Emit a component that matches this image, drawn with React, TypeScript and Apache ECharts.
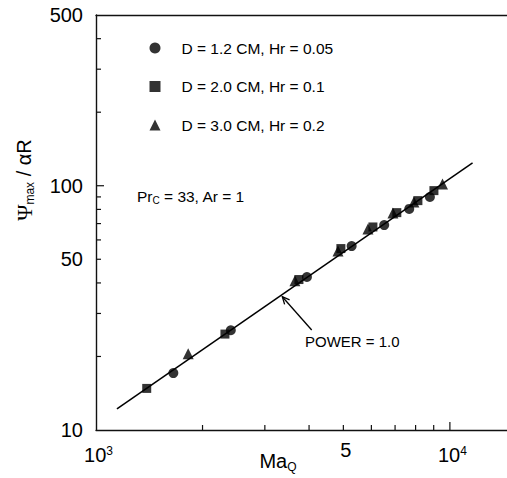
import React, { useEffect, useRef } from 'react';
import * as echarts from 'echarts';

const FONT = '"Liberation Sans", Arial, Helvetica, sans-serif';
const SERIF = '"Liberation Serif", "Times New Roman", serif';

const LEGEND_NAMES = ['D = 1.2 CM, Hr = 0.05', 'D = 2.0 CM, Hr = 0.1', 'D = 3.0 CM, Hr = 0.2'];

const MA_CIRCLE = [1654, 2404, 3945, 5277, 6522, 7675, 8780];
const PSI_CIRCLE = [17.1, 25.6, 42.3, 56.6, 69.0, 80.4, 89.9];

const MA_SQUARE = [1391, 2314, 3745, 4920, 6060, 7080, 8121, 9013];
const PSI_SQUARE = [14.8, 24.7, 41.3, 55.3, 67.8, 77.6, 86.9, 95.5];

const MA_TRIANGLE = [1822, 3648, 4828, 5866, 6902, 7911, 9530];
const PSI_TRIANGLE = [20.5, 40.8, 54.1, 66.5, 77.3, 85.7, 101.6];

const LINE_MA = [1146, 11590];
const LINE_PSI = [12.2, 124];

const X_MIN = 1000;
const X_MAX = 14500;
const Y_MIN = 10;
const Y_MAX = 500;

const X_MINOR_TICKS = [2000, 3000, 4000, 5000, 6000, 7000, 8000, 9000];
const X_MAJOR_TICKS = [10000];
const Y_MINOR_TICKS = [20, 30, 40, 50, 60, 70, 80, 90, 200, 300, 400];
const Y_MAJOR_TICKS = [100];

const X_TICK_VALUES = [1000, 5000, 10000];
const X_TICK_BASE = ['10', '5', '10'];
const X_TICK_SUP = ['3', '', '4'];

const Y_TICK_VALUES = [10, 50, 100, 500];
const Y_TICK_LABELS = ['10', '50', '100', '500'];

export default function App() {
  const ref = useRef<HTMLDivElement>(null);

  useEffect(() => {
    document.body.style.margin = '0';
    const chart = echarts.init(ref.current!, null, { renderer: 'svg' });
    const pts = (xs: number[], ys: number[]) => xs.map((x, i) => [x, ys[i]]);
    const axisLineStyle = { color: '#111', width: 1.4 };
    const baseX = {
      type: 'log',
      logBase: 10,
      min: X_MIN,
      max: X_MAX,
      axisLine: { show: true, onZero: false, lineStyle: axisLineStyle },
      axisTick: { show: false },
      axisLabel: { show: false },
      splitLine: { show: false },
    };
    chart.setOption({
      animation: false,
      grid: { left: 96, top: 15, right: 0, bottom: 48 },
      xAxis: [
        { ...baseX, position: 'bottom' },
        { ...baseX, position: 'top' },
      ],
      yAxis: {
        type: 'log',
        logBase: 10,
        min: Y_MIN,
        max: Y_MAX,
        axisLine: { show: true, onZero: false, lineStyle: axisLineStyle },
        axisTick: { show: false },
        axisLabel: { show: false },
        splitLine: { show: false },
      },
      legend: {
        orient: 'vertical',
        left: 144.5,
        top: 35,
        itemWidth: 11,
        itemHeight: 11,
        itemGap: 22.5,
        data: LEGEND_NAMES,
        formatter: (name: string) => '{a|' + name + '}',
        textStyle: {
          color: '#000',
          fontFamily: FONT,
          fontSize: 15.5,
          rich: { a: { fontFamily: FONT, fontSize: 15.5, lineHeight: 15, color: '#000', padding: [0, 0, 0, 16] } },
        },
      },
      series: [
        {
          name: 'fit',
          type: 'line',
          data: pts(LINE_MA, LINE_PSI),
          symbol: 'none',
          lineStyle: { color: '#000', width: 1.5 },
          z: 1,
        },
        {
          name: LEGEND_NAMES[0],
          type: 'scatter',
          symbol: 'circle',
          symbolSize: 10,
          data: pts(MA_CIRCLE, PSI_CIRCLE),
          itemStyle: { color: '#000' },
          z: 3,
        },
        {
          name: LEGEND_NAMES[1],
          type: 'scatter',
          symbol: 'rect',
          symbolSize: 9,
          data: pts(MA_SQUARE, PSI_SQUARE),
          itemStyle: { color: '#000' },
          z: 3,
        },
        {
          name: LEGEND_NAMES[2],
          type: 'scatter',
          symbol: 'triangle',
          symbolSize: 11,
          data: pts(MA_TRIANGLE, PSI_TRIANGLE),
          itemStyle: { color: '#000' },
          z: 3,
        },
      ],
    });

    const px = (x: number, y: number) => chart.convertToPixel({ gridIndex: 0 }, [x, y]) as number[];
    const [cx0, cy0] = px(X_MIN, Y_MIN);
    const tickStyle = { stroke: '#111', lineWidth: 1.2 };
    const g: any[] = [];

    X_MINOR_TICKS.forEach((v) => {
      const x = px(v, Y_MIN)[0];
      g.push({ type: 'line', shape: { x1: x, y1: cy0, x2: x, y2: cy0 - 5 }, style: tickStyle });
    });
    X_MAJOR_TICKS.forEach((v) => {
      const x = px(v, Y_MIN)[0];
      g.push({ type: 'line', shape: { x1: x, y1: cy0, x2: x, y2: cy0 - 8 }, style: tickStyle });
    });
    Y_MINOR_TICKS.forEach((v) => {
      const y = px(X_MIN, v)[1];
      g.push({ type: 'line', shape: { x1: cx0, y1: y, x2: cx0 + 5, y2: y }, style: tickStyle });
    });
    Y_MAJOR_TICKS.forEach((v) => {
      const y = px(X_MIN, v)[1];
      g.push({ type: 'line', shape: { x1: cx0, y1: y, x2: cx0 + 8, y2: y }, style: tickStyle });
    });

    Y_TICK_VALUES.forEach((v, i) => {
      const y = px(X_MIN, v)[1];
      g.push({
        type: 'text',
        x: cx0 - 13,
        y,
        style: { text: Y_TICK_LABELS[i], fontFamily: FONT, fontSize: 20, fill: '#000', align: 'right', verticalAlign: 'middle' },
      });
    });

    X_TICK_VALUES.forEach((v, i) => {
      const x = px(v, Y_MIN)[0] + 2.5;
      const sup = X_TICK_SUP[i];
      if (sup) {
        g.push({
          type: 'text',
          x,
          y: cy0 + 25,
          style: {
            text: '{b|' + X_TICK_BASE[i] + '}{s|' + sup + '}',
            align: 'center',
            verticalAlign: 'middle',
            rich: {
              b: { fontFamily: FONT, fontSize: 20, lineHeight: 20, color: '#000' },
              s: { fontFamily: FONT, fontSize: 12, lineHeight: 12, verticalAlign: 'top', color: '#000' },
            },
          },
        });
      } else {
        g.push({
          type: 'text',
          x,
          y: cy0 + 20,
          style: { text: X_TICK_BASE[i], fontFamily: FONT, fontSize: 20, fill: '#000', align: 'center', verticalAlign: 'middle' },
        });
      }
    });

    // x-axis title
    g.push({
      type: 'text',
      x: 278,
      y: 461,
      style: {
        text: '{a|Ma}{s|Q}',
        align: 'center',
        verticalAlign: 'middle',
        rich: {
          a: { fontFamily: FONT, fontSize: 20, lineHeight: 24, color: '#000' },
          s: { fontFamily: FONT, fontSize: 12, lineHeight: 12, verticalAlign: 'bottom', color: '#000' },
        },
      },
    });

    // y-axis title
    g.push({
      type: 'text',
      x: 24,
      y: 180,
      rotation: Math.PI / 2,
      style: {
        text: '{p|Ψ}{s|max}{a| / αR}',
        align: 'center',
        verticalAlign: 'middle',
        rich: {
          p: { fontFamily: SERIF, fontSize: 22, lineHeight: 24, color: '#000' },
          a: { fontFamily: FONT, fontSize: 20, lineHeight: 24, color: '#000' },
          s: { fontFamily: FONT, fontSize: 12, lineHeight: 12, verticalAlign: 'bottom', color: '#000' },
        },
      },
    });

    // parameter note
    g.push({
      type: 'text',
      x: 137,
      y: 196,
      style: {
        text: '{a|Pr}{s|C}{a| = 33, Ar = 1}',
        align: 'left',
        verticalAlign: 'middle',
        rich: {
          a: { fontFamily: FONT, fontSize: 15.5, lineHeight: 18, color: '#000' },
          s: { fontFamily: FONT, fontSize: 10, lineHeight: 10, verticalAlign: 'bottom', color: '#000' },
        },
      },
    });

    // annotation arrow
    const tip = [282.3, 296.7];
    const tail = [311.7, 330];
    const arrowStyle = { stroke: '#000', lineWidth: 1.3 };
    g.push({ type: 'line', shape: { x1: tail[0], y1: tail[1], x2: tip[0], y2: tip[1] }, style: arrowStyle });
    g.push({
      type: 'polyline',
      shape: { points: [[284.6, 304.4], tip, [289.6, 299.9]] },
      style: { ...arrowStyle, fill: null },
    });
    g.push({
      type: 'text',
      x: 305,
      y: 341,
      style: { text: 'POWER = 1.0', fontFamily: FONT, fontSize: 15, fill: '#000', align: 'left', verticalAlign: 'middle' },
    });

    chart.setOption({ graphic: g });
    return () => chart.dispose();
  }, []);

  return <div ref={ref} style={{ width: 507, height: 478 }} />;
}
